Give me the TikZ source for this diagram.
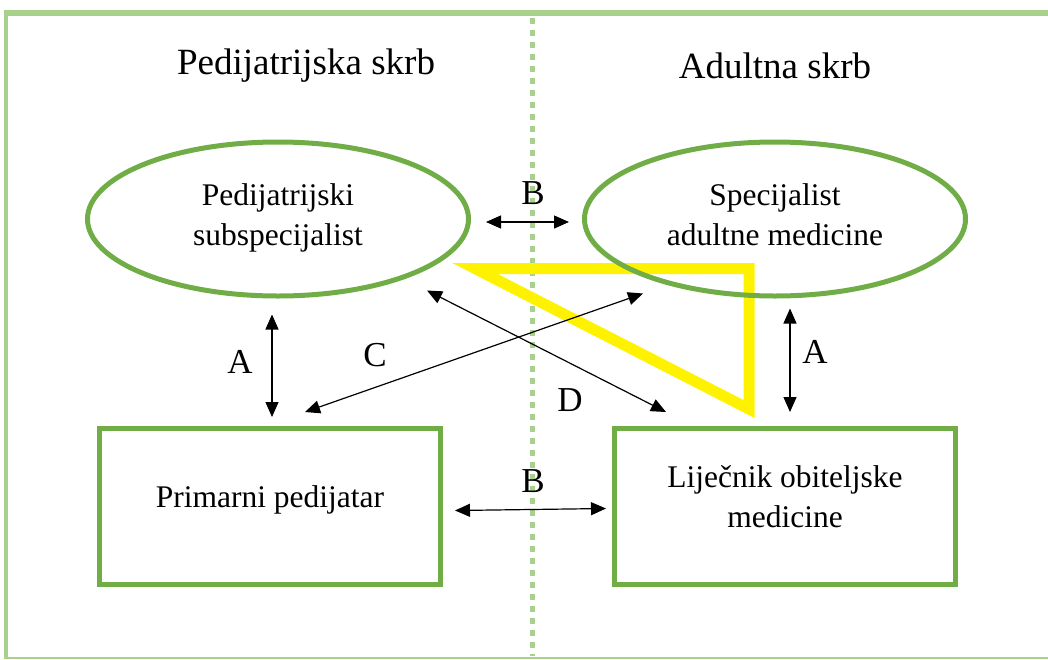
\documentclass[tikz,border=0pt]{standalone}
\usepackage{fontspec}
\setmainfont{Liberation Serif}
\usetikzlibrary{shapes.geometric, arrows.meta}
\definecolor{leafgreen}{HTML}{70AD47}
\definecolor{palegreen}{HTML}{A9D18E}
\tikzstyle{careoval} = [ellipse, minimum width=381pt, minimum height=154pt, inner sep=0pt, text depth=8pt, line width=5pt, draw=leafgreen, align=center, font=\fontsize{31.5}{40}\selectfont]
\tikzstyle{carebox} = [rectangle, minimum width=341pt, minimum height=156pt, text depth=20pt, line width=5pt, draw=leafgreen, align=center, font=\fontsize{31.5}{40}\selectfont]
\tikzstyle{sidetitle} = [font=\fontsize{37}{44}\selectfont]
\tikzstyle{letter} = [font=\fontsize{35}{42}\selectfont]
\tikzstyle{arrow} = [line width=1.2pt, {Triangle[length=15pt,width=13pt]}-{Triangle[length=15pt,width=13pt]}]

\begin{document}
\begin{tikzpicture}[x=1pt, y=-1pt]
                \useasboundingbox (0,0) rectangle (1048,659);
                % Frame and divider
                \draw [palegreen, line width=6pt] (4,13) -- (1048,13);
                \draw [palegreen, line width=4pt] (6,10) -- (6,659);
                \draw [palegreen, line width=1.5pt] (6,658) -- (1048,658);
                \draw [palegreen, line width=5pt, dash pattern=on 6pt off 6pt] (532,18) -- (532,656);

                % Titles
                \node (peds) [sidetitle] at (306,66) {Pedijatrijska skrb};
                \node (adult) [sidetitle] at (775,66) {Adultna skrb};

                % Triangle
                \draw [yellow, line width=11pt, line join=miter] (475,268.5) -- (749,268.5) -- (749,409) -- cycle;

                % Nodes
                \node (lsub) [careoval] at (278,219) {Pedijatrijski\\subspecijalist};
                \node (rspec) [careoval, right of=lsub, node distance=497pt] {Specijalist\\adultne medicine};
                \node (ppd) [carebox] at (270,506.5) {Primarni pedijatar};
                \node (lob) [carebox, right of=ppd, node distance=515pt] {Liječnik obiteljske\\medicine};

                % Arrows
                \draw [arrow] ([shift={(15,3)}]lsub.east) -- ([shift={(-13,3)}]rspec.west);
                \draw [arrow] ([shift={(-6,16)}]lsub.south) -- ([shift={(2,-9)}]ppd.north);
                \draw [arrow] ([shift={(35,-14)}]ppd.north) -- ([shift={(-132,-5)}]rspec.south);
                \draw [arrow] ([shift={(149,-8)}]lsub.south) -- ([shift={(-119,-14)}]lob.north);
                \draw [arrow] ([shift={(15,10)}]rspec.south) -- ([shift={(5,-14)}]lob.north);
                \draw [arrow] ([shift={(12,4)}]ppd.east) -- ([shift={(-6,2)}]lob.west);

                % Labels
                \node (btop) [letter] at (533,193) {B};
                \node (aleft) [letter] at (240,362) {A};
                \node (cmid) [letter] at (375,355) {C};
                \node (dmid) [letter] at (570,400) {D};
                \node (aright) [letter] at (815,352) {A};
                \node (bbot) [letter] at (533,481) {B};
            \end{tikzpicture}
\end{document}
